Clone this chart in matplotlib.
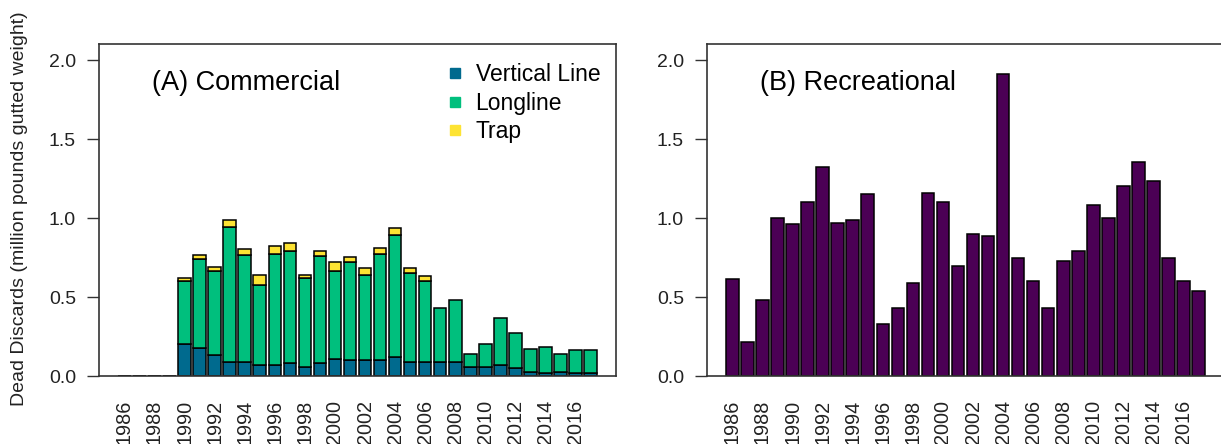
import numpy as np
import matplotlib
matplotlib.use("Agg")
import matplotlib.pyplot as plt
from matplotlib.lines import Line2D

plt.rcParams['font.family'] = ['Liberation Sans', 'DejaVu Sans']

# data (million pounds gutted weight)
years = np.arange(1986, 2018)
vertical_line = [0, 0, 0, 0,
                 0.200, 0.180, 0.131, 0.087, 0.087, 0.070, 0.070, 0.080, 0.059, 0.080,
                 0.110, 0.099, 0.099, 0.099, 0.120, 0.088, 0.087, 0.087, 0.087, 0.059,
                 0.059, 0.070, 0.049, 0.027, 0.021, 0.027, 0.021, 0.021]
longline = [0, 0, 0, 0,
            0.399, 0.560, 0.531, 0.858, 0.677, 0.508, 0.702, 0.713, 0.561, 0.682,
            0.552, 0.623, 0.542, 0.673, 0.774, 0.564, 0.512, 0.341, 0.394, 0.080,
            0.144, 0.297, 0.225, 0.144, 0.163, 0.114, 0.141, 0.141]
trap = [0, 0, 0, 0,
        0.023, 0.024, 0.030, 0.042, 0.040, 0.061, 0.051, 0.051, 0.019, 0.031,
        0.060, 0.031, 0.040, 0.040, 0.041, 0.029, 0.032, 0, 0, 0,
        0, 0, 0, 0, 0, 0, 0, 0]
recreational = [0.612, 0.215, 0.479, 0.998, 0.960, 1.100, 1.325, 0.968, 0.987, 1.152,
                0.327, 0.428, 0.589, 1.160, 1.100, 0.700, 0.898, 0.886, 1.916, 0.745,
                0.603, 0.428, 0.726, 0.795, 1.082, 0.998, 1.204, 1.354, 1.234, 0.745,
                0.603, 0.540]

gear_labels = ["Vertical Line", "Longline", "Trap"]
gear_colors = ["#006A8E", "#00BF7D", "#FDE333"]
rec_color = "#4B0055"

W, H = 1221, 444
fig = plt.figure(figsize=(W / 100, H / 100), dpi=100)

ax_left = 99 / W
ax_w = 517 / W
ax_b = (H - 376) / H
ax_h = (376 - 44.5) / H
ax1 = fig.add_axes([ax_left, ax_b, ax_w, ax_h])
ax2 = fig.add_axes([707 / W, ax_b, ax_w, ax_h])

bw = 1 / 1.2
ekw = dict(edgecolor="black", linewidth=1.1, width=bw)

vl = np.array(vertical_line)
ll = np.array(longline)
tr = np.array(trap)
ax1.bar(years, vl, color=gear_colors[0], **ekw)
ax1.bar(years, ll, bottom=vl, color=gear_colors[1], **ekw)
ax1.bar(years[tr > 0], tr[tr > 0], bottom=(vl + ll)[tr > 0], color=gear_colors[2], **ekw)

ax2.bar(years, recreational, color=rec_color, **ekw)

for ax, title in [(ax1, "(A) Commercial"), (ax2, "(B) Recreational")]:
    ax.set_xlim(1984.31, 2018.69)
    ax.set_ylim(0, 2.1)
    ax.set_yticks([0, 0.5, 1.0, 1.5, 2.0])
    ax.set_yticklabels(["0.0", "0.5", "1.0", "1.5", "2.0"])
    ax.set_xticks(years[::2])
    ax.set_xticklabels([str(y) for y in years[::2]], rotation=90, va="top")
    ax.tick_params(axis="x", length=0, pad=17, labelsize=14.3, colors="#222222")
    ax.tick_params(axis="y", length=8.6, width=1.0, pad=8.0, labelsize=14,
                   colors="#333333", labelcolor="#222222")
    for s in ax.spines.values():
        s.set_linewidth(1.2)
        s.set_color("#333333")
    ax.text(0.1025, 0.884, title, transform=ax.transAxes, fontsize=19.5,
            ha="left", va="center", color="black")

handles = [Line2D([], [], marker="s", ls="", color=c, markersize=7) for c in gear_colors]
ax1.legend(handles, gear_labels, loc="upper left", bbox_to_anchor=(0.673, 0.943),
           frameon=False, fontsize=16.5, handlelength=0.7, handletextpad=0.55,
           labelspacing=0.23, borderpad=0, borderaxespad=0)

fig.text(20 / W, 1 - 209 / H, "Dead Discards (million pounds gutted weight)",
         rotation=90, ha="center", va="center", fontsize=14, color="#222222")

fig.savefig("out.png", dpi=100)
